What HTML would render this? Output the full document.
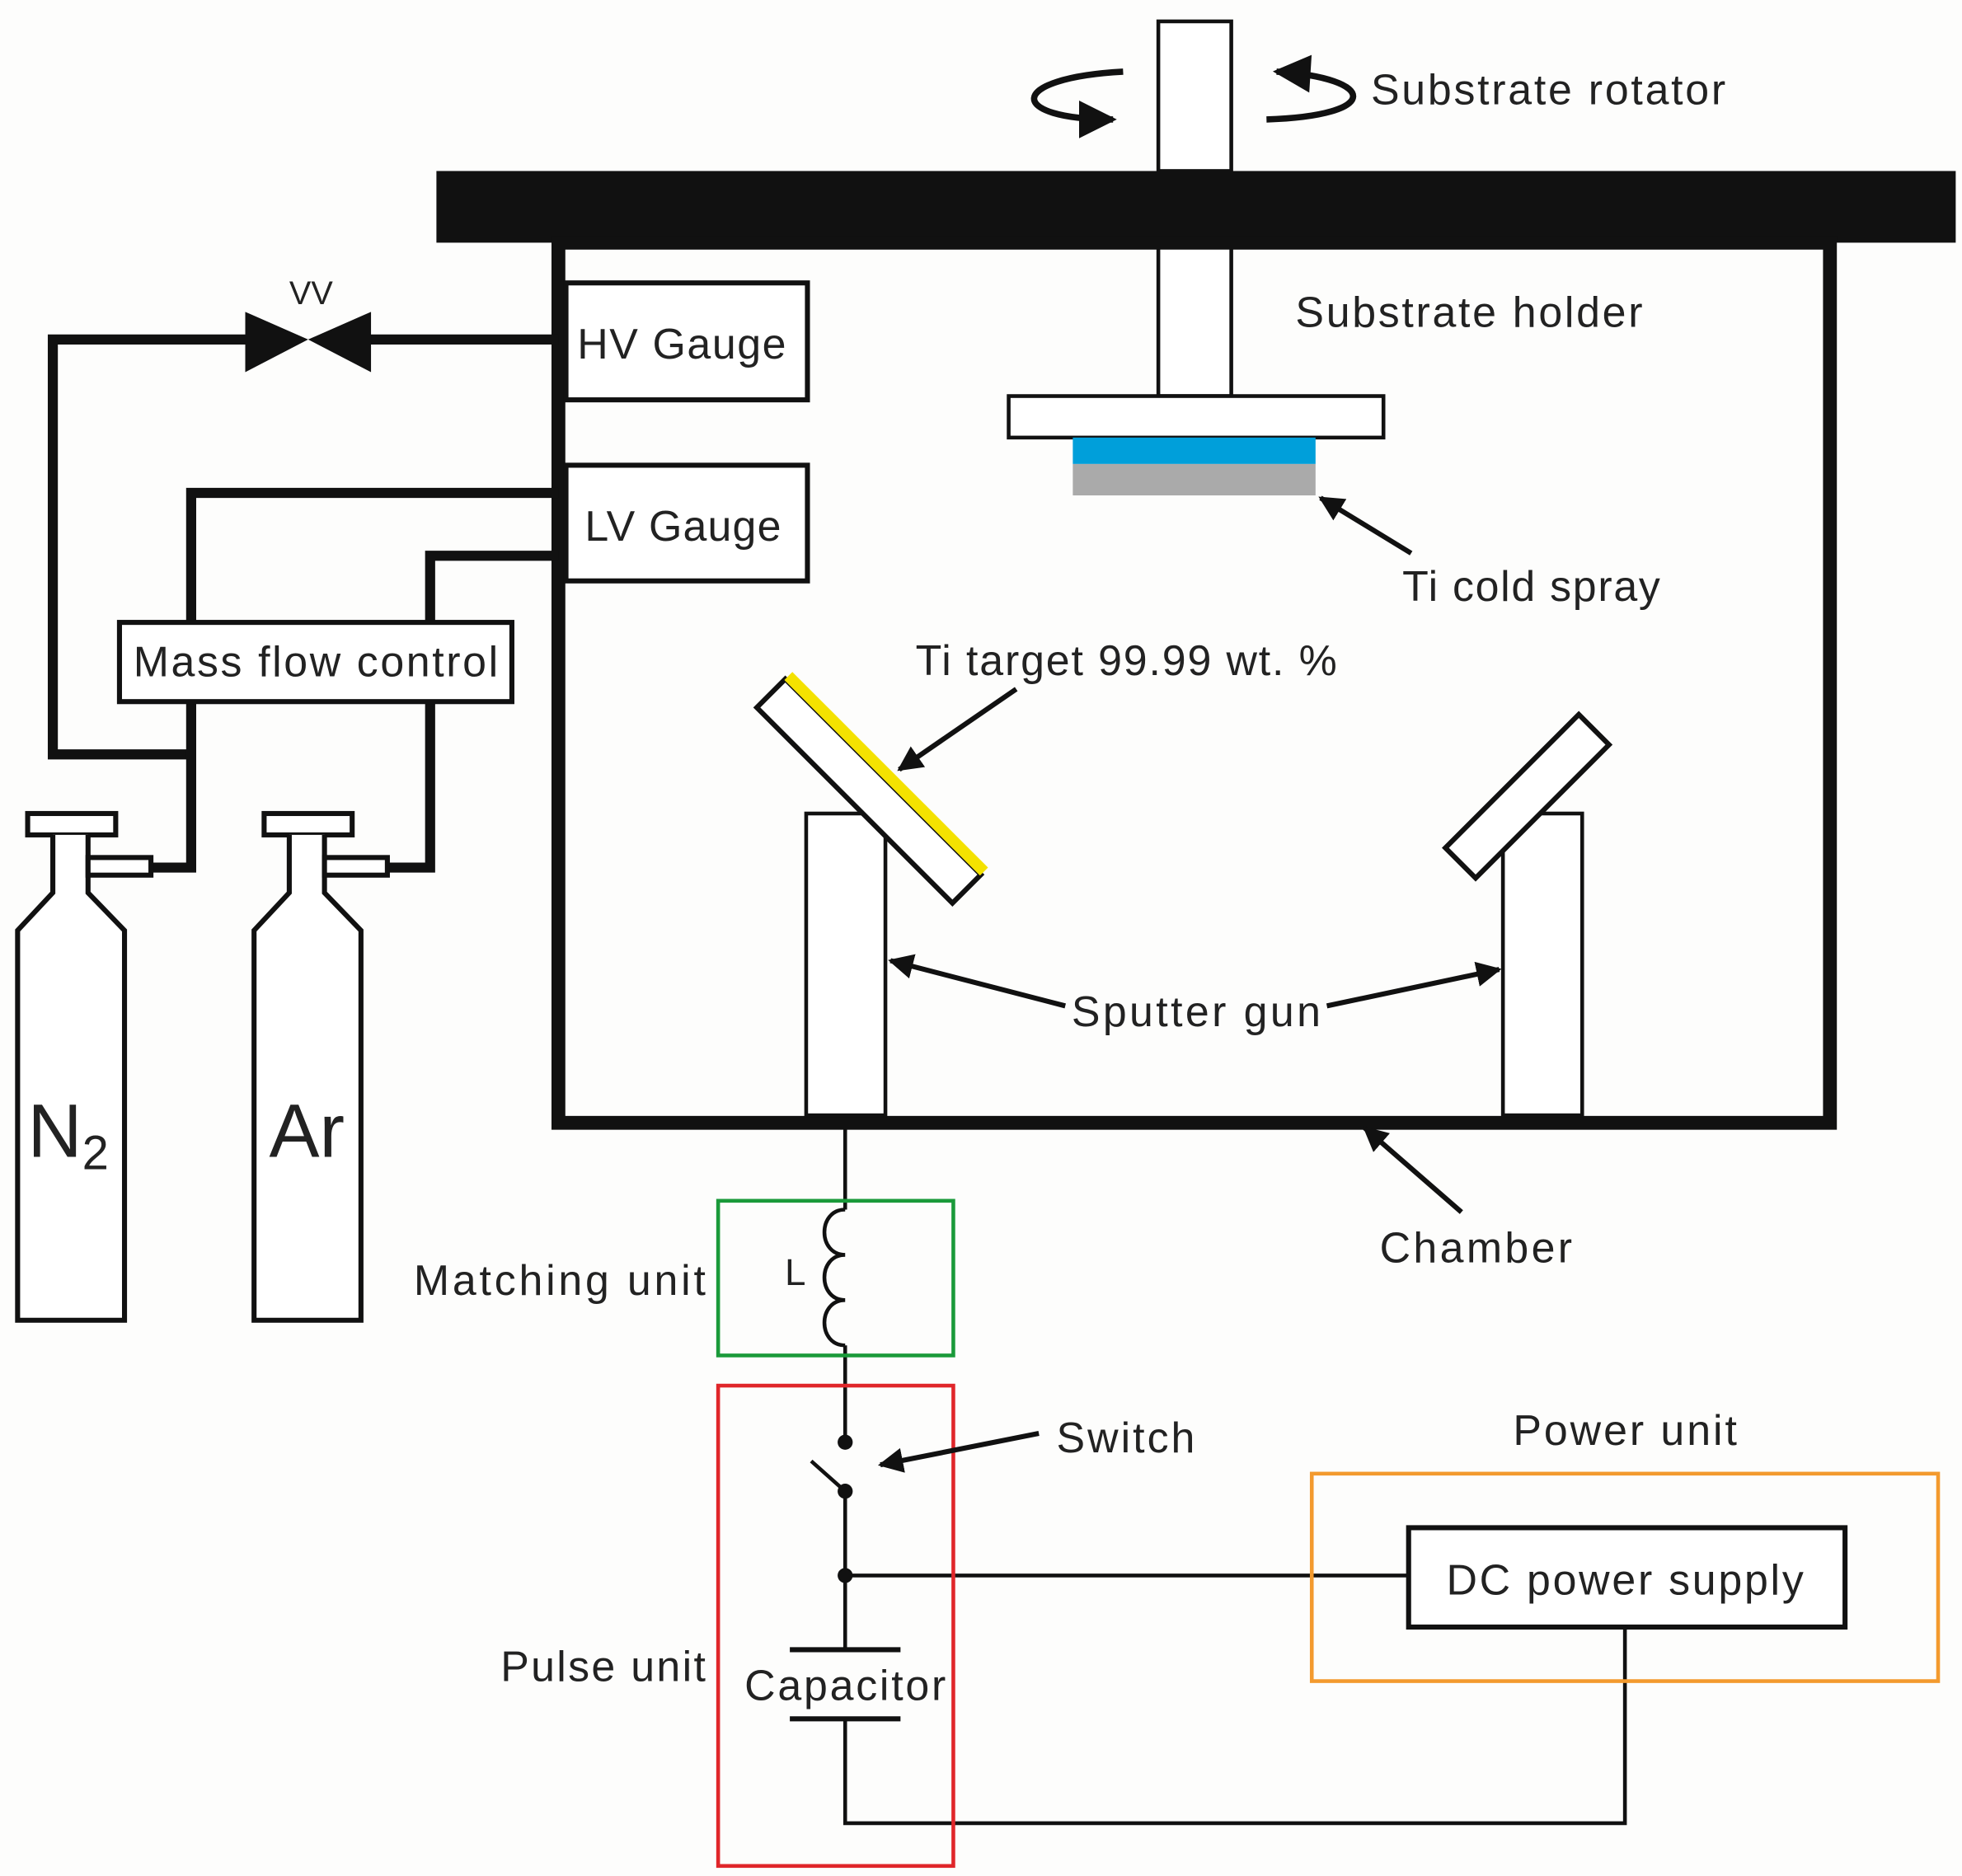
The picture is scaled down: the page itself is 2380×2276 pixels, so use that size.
<!DOCTYPE html>
<html><head><meta charset="utf-8"><style>
html,body{margin:0;padding:0;background:#fdfdfc;}
svg{display:block;}
text{font-family:"Liberation Sans",sans-serif;fill:#222;}
</style></head><body>
<svg width="2380" height="2276" viewBox="0 0 1560 1492" preserveAspectRatio="none" xmlns="http://www.w3.org/2000/svg">
<defs>
<marker id="ah" viewBox="0 0 10 10" refX="9" refY="5" markerWidth="5" markerHeight="5" orient="auto-start-reverse"><path d="M0,0 L10,5 L0,10 z" fill="#111"/></marker>
<marker id="ah2" viewBox="0 0 10 10" refX="9" refY="5" markerWidth="7" markerHeight="6" orient="auto"><path d="M0,0 L10,5 L0,10 z" fill="#111"/></marker>
</defs>
<rect width="1560" height="1492" fill="#fdfdfc"/>
<rect x="921" y="17" width="58" height="119" fill="#fff" stroke="#111" stroke-width="3"/>
<rect x="921" y="193" width="58" height="122" fill="#fff" stroke="#111" stroke-width="3"/>
<rect x="347" y="136" width="1208" height="57" fill="#111"/>
<path d="M893,57 C800,62 800,95 885,95" fill="none" stroke="#111" stroke-width="5" marker-end="url(#ah2)"/>
<path d="M1007,95 C1100,92 1095,62 1015,57" fill="none" stroke="#111" stroke-width="5" marker-end="url(#ah2)"/>
<text x="1090" y="83" font-size="34" textLength="282">Substrate rotator</text>
<rect x="444" y="193" width="1011" height="700" fill="none" stroke="#111" stroke-width="11"/>
<text x="1030" y="260" font-size="34" textLength="276">Substrate holder</text>
<rect x="802" y="315" width="298" height="33" fill="#fff" stroke="#111" stroke-width="3"/>
<rect x="853" y="348" width="193" height="21" fill="#009fda"/>
<rect x="853" y="369" width="193" height="25" fill="#aaa"/>
<line x1="1122" y1="440" x2="1050" y2="396" stroke="#111" stroke-width="4" marker-end="url(#ah)"/>
<text x="1115" y="478" font-size="34" textLength="205">Ti cold spray</text>
<rect x="450" y="225" width="192" height="93" fill="#fff" stroke="#111" stroke-width="4"/>
<text x="459" y="285" font-size="34" textLength="166">HV Gauge</text>
<rect x="450" y="370" width="192" height="92" fill="#fff" stroke="#111" stroke-width="4"/>
<text x="465" y="430" font-size="34" textLength="156">LV Gauge</text>
<g fill="none" stroke="#111" stroke-width="8">
<path d="M444,270 H290 M200,270 H42 V600 H152"/>
<path d="M444,392 H152 V495"/>
<path d="M444,442 H342 V495"/>
<path d="M152,558 V690 H118"/>
<path d="M342,558 V690 H305"/>
</g>
<polygon points="195,248 245,270 195,296" fill="#111"/>
<polygon points="295,248 245,270 295,296" fill="#111"/>
<text x="230" y="242" font-size="26">VV</text>
<rect x="95" y="495" width="312" height="63" fill="#fff" stroke="#111" stroke-width="4"/>
<text x="106" y="538" font-size="34" textLength="290">Mass flow control</text>
<g fill="#fff" stroke="#111" stroke-width="4">
<rect x="22" y="647" width="70" height="17"/>
<path d="M42,664 V710 L14,740 V1050 H99 V740 L70,710 V664"/>
<rect x="70" y="682" width="50" height="14"/>
<rect x="210" y="647" width="70" height="17"/>
<path d="M230,664 V710 L202,740 V1050 H287 V740 L258,710 V664"/>
<rect x="258" y="682" width="50" height="14"/>
</g>
<text x="22" y="920" font-size="60">N<tspan font-size="38" dy="10">2</tspan></text>
<text x="214" y="920" font-size="60">Ar</text>
<rect x="641" y="647" width="63" height="240" fill="#fff" stroke="#111" stroke-width="3"/>
<rect x="1195" y="647" width="63" height="240" fill="#fff" stroke="#111" stroke-width="3"/>
<g transform="translate(688,632) rotate(45)">
<rect x="-110" y="-20" width="220" height="32" fill="#fff" stroke="#111" stroke-width="4"/>
<rect x="-110" y="-28" width="220" height="9" fill="#f4e200"/>
</g>
<g transform="translate(1215,634) rotate(-45)">
<rect x="-75" y="-18" width="150" height="34" fill="#fff" stroke="#111" stroke-width="4"/>
</g>
<line x1="808" y1="548" x2="715" y2="612" stroke="#111" stroke-width="4" marker-end="url(#ah)"/>
<text x="728" y="537" font-size="34" textLength="335">Ti target 99.99 wt. %</text>
<line x1="847" y1="800" x2="708" y2="764" stroke="#111" stroke-width="4" marker-end="url(#ah)"/>
<line x1="1055" y1="800" x2="1192" y2="771" stroke="#111" stroke-width="4" marker-end="url(#ah)"/>
<text x="852" y="816" font-size="34" textLength="198">Sputter gun</text>
<line x1="1162" y1="964" x2="1085" y2="897" stroke="#111" stroke-width="4" marker-end="url(#ah)"/>
<text x="1097" y="1004" font-size="34" textLength="153">Chamber</text>
<g fill="none" stroke="#111" stroke-width="3">
<path d="M672,898 V962"/>
<path d="M672,962 C650,962 650,998 672,998 C650,998 650,1034 672,1034 C650,1034 650,1070 672,1070"/>
<path d="M672,1070 V1147"/>
<path d="M645,1162 L672,1186"/>
<path d="M672,1186 V1312"/>
<path d="M672,1253 H1120"/>
<path d="M672,1367 V1450 H1292 V1294"/>
</g>
<line x1="628" y1="1312" x2="716" y2="1312" stroke="#111" stroke-width="4"/>
<line x1="628" y1="1367" x2="716" y2="1367" stroke="#111" stroke-width="4"/>
<circle cx="672" cy="1147" r="6" fill="#111"/>
<circle cx="672" cy="1186" r="6" fill="#111"/>
<circle cx="672" cy="1253" r="6" fill="#111"/>
<rect x="571" y="955" width="187" height="123" fill="none" stroke="#1a9a3a" stroke-width="3"/>
<text x="624" y="1022" font-size="30">L</text>
<text x="329" y="1030" font-size="34" textLength="232">Matching unit</text>
<rect x="571" y="1102" width="187" height="382" fill="none" stroke="#e0262a" stroke-width="3"/>
<line x1="826" y1="1140" x2="700" y2="1165" stroke="#111" stroke-width="4" marker-end="url(#ah)"/>
<text x="840" y="1155" font-size="34" textLength="110">Switch</text>
<text x="398" y="1337" font-size="34" textLength="163">Pulse unit</text>
<text x="592" y="1352" font-size="34" textLength="160">Capacitor</text>
<text x="1203" y="1149" font-size="34" textLength="178">Power unit</text>
<rect x="1043" y="1172" width="498" height="165" fill="none" stroke="#f39a2e" stroke-width="3"/>
<rect x="1120" y="1215" width="347" height="79" fill="#fff" stroke="#111" stroke-width="4"/>
<text x="1150" y="1268" font-size="34" textLength="284">DC power supply</text>
</svg>
</body></html>
